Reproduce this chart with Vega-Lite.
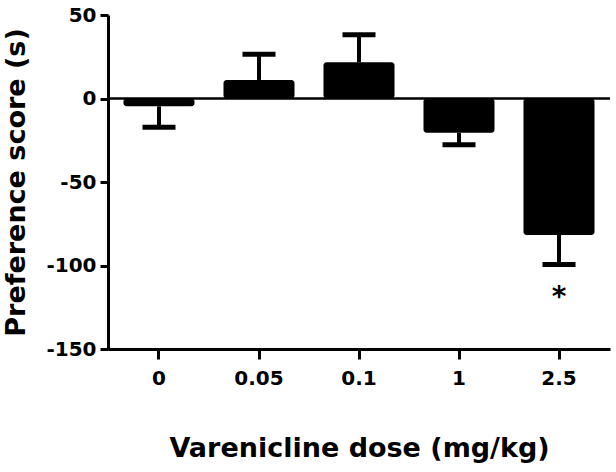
{
  "$schema": "https://vega.github.io/schema/vega-lite/v6.json",
  "autosize": "none",
  "width": 502,
  "height": 334,
  "padding": {"left": 108, "top": 15, "right": 6, "bottom": 123},
  "background": "white",
  "config": {
    "view": {"stroke": null},
    "font": "DejaVu Sans",
    "axis": {"grid": false, "domainColor": "black", "tickColor": "black", "labelColor": "black", "titleColor": "black", "labelFont": "DejaVu Sans", "titleFont": "DejaVu Sans", "labelFontWeight": "bold", "titleFontWeight": "bold", "labelFontSize": 20, "titleFontSize": 27, "domainWidth": 3, "tickWidth": 3}
  },
  "datasets": {
    "bars": [
      {"dose": "0", "mean": -4.7, "err": -17.2},
      {"dose": "0.05", "mean": 11.1, "err": 26.5},
      {"dose": "0.1", "mean": 21.7, "err": 38.1},
      {"dose": "1", "mean": -20.5, "err": -27.7},
      {"dose": "2.5", "mean": -81.7, "err": -99.4}
    ],
    "stars": [
      {"dose": "2.5", "pos": -124.5, "label": "*"}
    ],
    "zero": [
      {"level": 0}
    ]
  },
  "layer": [
    {
      "data": {"name": "bars"},
      "mark": {"type": "rule", "strokeWidth": 4, "color": "black", "opacity": 1},
      "encoding": {
        "x": {
          "field": "dose", "type": "nominal", "sort": null,
          "scale": {"domain": ["0", "0.05", "0.1", "1", "2.5"], "paddingInner": 0.29, "paddingOuter": 0.155},
          "axis": {"title": "Varenicline dose (mg/kg)", "labelAngle": 0, "tickSize": 10, "labelPadding": 9, "titlePadding": 47}
        },
        "y": {
          "field": "mean", "type": "quantitative",
          "scale": {"domain": [-150, 50], "nice": false, "zero": true},
          "axis": {"title": "Preference score (s)", "values": [-150, -100, -50, 0, 50], "labelExpr": "'' + datum.value", "tickSize": 8, "labelPadding": 4, "titlePadding": 15}
        },
        "y2": {"field": "err"}
      }
    },
    {
      "data": {"name": "bars"},
      "mark": {"type": "tick", "orient": "horizontal", "thickness": 5, "size": 33, "color": "black", "opacity": 1},
      "encoding": {
        "x": {"field": "dose", "type": "nominal", "sort": null},
        "y": {"field": "err", "type": "quantitative"}
      }
    },
    {
      "data": {"name": "bars"},
      "mark": {"type": "bar", "color": "black", "cornerRadius": 3, "opacity": 1},
      "encoding": {
        "x": {"field": "dose", "type": "nominal", "sort": null},
        "y": {"field": "mean", "type": "quantitative"},
        "y2": {"datum": 0}
      }
    },
    {
      "data": {"name": "zero"},
      "mark": {"type": "rule", "color": "black", "strokeWidth": 2.5, "opacity": 1},
      "encoding": {"y": {"field": "level", "type": "quantitative"}}
    },
    {
      "data": {"name": "stars"},
      "mark": {"type": "text", "fontSize": 28, "fontWeight": "bold", "baseline": "alphabetic", "color": "black"},
      "encoding": {
        "x": {"field": "dose", "type": "nominal", "sort": null},
        "y": {"field": "pos", "type": "quantitative"},
        "text": {"field": "label"}
      }
    }
  ]
}
